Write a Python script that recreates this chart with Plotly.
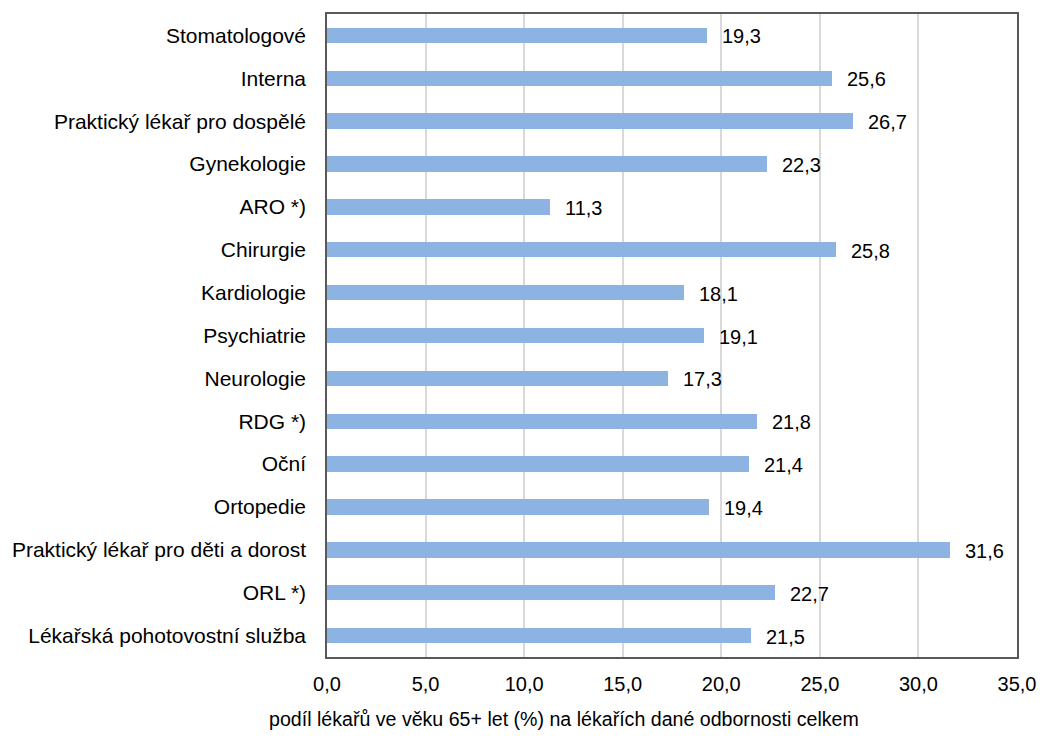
import plotly.graph_objects as go

categories = [
    "Stomatologové",
    "Interna",
    "Praktický lékař pro dospělé",
    "Gynekologie",
    "ARO *)",
    "Chirurgie",
    "Kardiologie",
    "Psychiatrie",
    "Neurologie",
    "RDG *)",
    "Oční",
    "Ortopedie",
    "Praktický lékař pro děti a dorost",
    "ORL *)",
    "Lékařská pohotovostní služba",
]
values = [19.3, 25.6, 26.7, 22.3, 11.3, 25.8, 18.1, 19.1, 17.3, 21.8, 21.4, 19.4, 31.6, 22.7, 21.5]
x_ticks = [0, 5, 10, 15, 20, 25, 30, 35]
x_title = "podíl lékařů ve věku 65+ let (%) na lékařích dané odbornosti celkem"

font = "Liberation Sans, Arial, sans-serif"

fig = go.Figure(
    go.Bar(
        x=values,
        y=categories,
        orientation="h",
        marker=dict(color="#8DB3E2", line=dict(width=0)),
        width=0.36,
        hoverinfo="x+y",
    )
)

for c, v in zip(categories, values):
    fig.add_annotation(
        x=v, y=c, text=f"{v:.1f}".replace(".", ","),
        xanchor="left", yanchor="middle", xshift=13, yshift=-1,
        showarrow=False, font=dict(family=font, size=20, color="#000000"),
    )

# axis title (centred left of the plot centre, as in the reference)
fig.add_annotation(
    x=0.3436, y=0, xref="paper", yref="paper",
    text=x_title, xanchor="center", yanchor="middle", yshift=-62,
    showarrow=False, font=dict(family=font, size=19.6, color="#000000"),
)

fig.update_layout(
    width=1048,
    height=738,
    margin=dict(l=327, r=21, t=14, b=81),
    plot_bgcolor="white",
    paper_bgcolor="white",
    separators=", ",
    showlegend=False,
    font=dict(family=font, size=20, color="#000000"),
    bargap=0,
)
fig.update_xaxes(
    range=[0, 35],
    tickvals=x_ticks,
    tickformat=".1f",
    showgrid=True,
    gridcolor="#d9d9d9",
    gridwidth=1.5,
    showline=True,
    linecolor="#595959",
    linewidth=1.5,
    mirror=True,
    ticks="",
    zeroline=False,
    tickfont=dict(size=20),
    ticklabelstandoff=8,
    ticklabeloverflow="allow",
)
fig.update_yaxes(
    categoryorder="array",
    categoryarray=categories[::-1],
    showline=True,
    linecolor="#595959",
    linewidth=1.5,
    mirror=True,
    ticks="",
    showgrid=False,
    tickfont=dict(size=21),
    ticklabelstandoff=15,
)

# remove the browser's default 8px body margin so the figure fills the window exactly
fig.write_html(
    "out.html",
    config={"displayModeBar": False},
    post_script="document.body.style.margin='0';document.body.style.overflow='hidden';",
)
